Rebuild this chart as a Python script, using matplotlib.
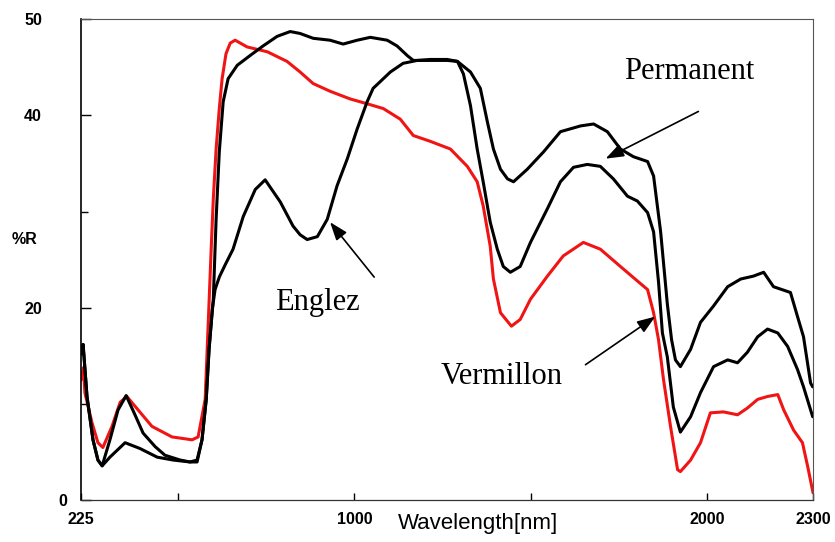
# pigment_spectra.py
"""
Reflectance spectra of three red pigments (Vermillon, Englez, Permanent)
over the 225-2300 nm range.
"""

import matplotlib.pyplot as plt

# ----------------------------
# Data: wavelength [nm] and reflectance [%R]
# ----------------------------
vermillon_wl = [225, 232, 236, 256, 273, 287, 313, 336, 355, 387, 426, 483, 540,
                557, 577, 585, 594, 600, 608, 617, 625, 636, 648, 662, 696, 753,
                809, 846, 883, 931, 988, 1036, 1082, 1130, 1167, 1215, 1272, 1320,
                1348, 1365, 1385, 1394, 1414, 1445, 1470, 1499, 1547, 1592, 1649,
                1697, 1754, 1802, 1831, 1848, 1862, 1876, 1896, 1916, 1924, 1953,
                1981, 2009, 2046, 2086, 2114, 2143, 2171, 2200, 2217, 2245, 2270,
                2285, 2300]
vermillon_r = [12.5, 13.8, 11.2, 8.1, 6.0, 5.5, 7.7, 10.2, 10.8, 9.4, 7.7, 6.6, 6.3,
               6.6, 10.5, 17.8, 26.1, 31.3, 36.5, 40.7, 43.8, 46.4, 47.5, 47.8, 47.1,
               46.6, 45.6, 44.5, 43.3, 42.5, 41.7, 41.2, 40.7, 39.6, 37.9, 37.3, 36.5,
               34.7, 33.1, 30.6, 26.4, 23.0, 19.5, 18.1, 18.8, 20.9, 23.3, 25.4, 26.8,
               26.1, 24.3, 22.8, 21.9, 19.5, 16.7, 12.6, 7.7, 3.2, 3.0, 4.2,
               6.0, 9.1, 9.2, 8.9, 9.6, 10.5, 10.8, 11.0, 9.4, 7.3, 6.0,
               3.5, 0.8]

englez_wl = [225, 231, 242, 259, 273, 285, 307, 330, 353, 378, 401, 435, 463, 506,
             534, 554, 568, 580, 588, 597, 605, 617, 634, 656, 685, 719, 747, 790,
             826, 846, 866, 895, 923, 951, 980, 1008, 1036, 1053, 1102, 1138, 1178,
             1215, 1263, 1292, 1309, 1329, 1348, 1365, 1385, 1405, 1422, 1442, 1470,
             1499, 1547, 1584, 1621, 1660, 1697, 1734, 1774, 1802, 1831, 1848, 1862,
             1873, 1887, 1904, 1924, 1953, 1981, 2018, 2058, 2086, 2114, 2143, 2171,
             2200, 2228, 2256, 2273, 2299]
englez_r = [15.2, 16.2, 10.8, 6.3, 4.2, 3.6, 6.3, 9.4, 10.9, 8.9, 7.0, 5.6, 4.7, 4.2,
            4.0, 4.0, 6.3, 10.5, 15.7, 19.8, 21.9, 23.2, 24.5, 26.1, 29.5, 32.3, 33.3,
            31.0, 28.5, 27.6, 27.1, 27.4, 29.2, 32.7, 35.5, 38.6, 41.4, 42.8, 44.5,
            45.4, 45.7, 45.8, 45.8, 45.6, 44.3, 41.0, 36.5, 33.1, 28.9, 26.1, 24.3,
            23.7, 24.3, 26.8, 30.3, 33.1, 34.6, 34.9, 34.7, 33.4, 31.6, 31.1, 29.9,
            27.9, 22.7, 17.4, 14.9, 9.7, 7.1, 8.7, 11.2, 13.9, 14.6, 14.3, 15.4, 17.0,
            17.8, 17.4, 16.0, 13.6, 11.8, 8.7]

permanent_wl = [225, 231, 242, 259, 273, 285, 307, 350, 392, 441, 486, 534, 554,
                568, 580, 588, 600, 608, 617, 628, 642, 668, 704, 741, 781, 818, 846,
                883, 931, 968, 1008, 1045, 1093, 1121, 1150, 1167, 1215, 1263, 1292,
                1329, 1357, 1377, 1394, 1414, 1434, 1451, 1490, 1536, 1584, 1641, 1678,
                1717, 1754, 1791, 1831, 1848, 1868, 1887, 1899, 1910, 1924, 1953, 1981,
                2018, 2058, 2095, 2131, 2160, 2188, 2236, 2256, 2273, 2293, 2299]
permanent_r = [15.2, 16.2, 10.8, 6.3, 4.2, 3.6, 4.5, 6.0, 5.4, 4.5, 4.2, 4.0, 4.2,
               6.3, 10.5, 15.7, 20.9, 29.2, 36.2, 41.4, 43.8, 45.2, 46.2, 47.2, 48.2,
               48.7, 48.5, 48.0, 47.8, 47.4, 47.8, 48.1, 47.8, 47.2, 46.2, 45.7, 45.7,
               45.7, 45.6, 44.5, 42.8, 39.3, 36.5, 34.4, 33.4, 33.1, 34.4, 36.2, 38.3,
               38.9, 39.1, 38.3, 36.5, 35.7, 35.2, 33.7, 27.9, 20.4, 16.7, 14.6, 13.9,
               15.7, 18.5, 20.2, 22.2, 23.0, 23.3, 23.7, 22.2, 21.6, 19.1, 17.0, 12.2,
               11.8]

x_ticks = [225, 1000, 2000, 2300]
x_minor = [500, 1500]
y_ticks = [0, 20, 40, 50]
y_minor = [10, 30]

# ----------------------------
# Figure and axes
# ----------------------------
fig = plt.figure(figsize=(8.35, 5.42), dpi=100)
ax = fig.add_axes([0.097, 0.0766, 0.8767, 0.8883])

line_style = dict(lw=2.2, solid_joinstyle='round', solid_capstyle='round')
ax.plot(vermillon_wl, vermillon_r, color='#f01414', **line_style)
ax.plot(englez_wl, englez_r, color='black', **line_style)
ax.plot(permanent_wl, permanent_r, color='black', **line_style)

ax.set_xlim(225, 2300)
ax.set_ylim(0, 50)

# Ticks point inward, bold sans labels
ax.set_xticks(x_ticks)
ax.set_xticks(x_minor, minor=True)
ax.set_yticks(y_ticks)
ax.set_yticks(y_minor, minor=True)
ax.set_xticklabels([str(v) for v in x_ticks])
ax.set_yticklabels([str(v) for v in y_ticks])
ax.tick_params(axis='x', which='major', direction='in', length=5, width=1, pad=8)
ax.tick_params(axis='x', which='minor', direction='in', length=5, width=1)
ax.tick_params(axis='y', which='major', direction='in', length=7, width=1, pad=28)
ax.tick_params(axis='y', which='minor', direction='in', length=5, width=1)
for lab in ax.get_xticklabels() + ax.get_yticklabels():
    lab.set_fontfamily('Liberation Sans')
    lab.set_fontweight('bold')
    lab.set_fontsize(11.5)
# the zero label sits close to the corner
ax.yaxis.get_major_ticks()[0].set_pad(10)

for side in ['top', 'right']:
    ax.spines[side].set_color('#555555')
    ax.spines[side].set_linewidth(0.8)
ax.spines['bottom'].set_color('#333333')
ax.spines['bottom'].set_linewidth(0.9)
ax.spines['left'].set_linewidth(1.2)

fig.text(24 / 835, 1 - 240 / 542, '%R', family='Liberation Sans', weight='bold',
         fontsize=11.5, ha='center', va='center')
fig.text(478 / 835, 1 - 523 / 542, 'Wavelength[nm]', family='Liberation Sans',
         fontsize=16, ha='center', va='center')

# ----------------------------
# Curve labels with arrows
# ----------------------------
arrow = dict(arrowstyle='-|>,head_length=0.55,head_width=0.2', mutation_scale=20,
             color='black', lw=1.2, shrinkA=0, shrinkB=0)
label_font = dict(family='Liberation Serif', fontsize=22, ha='center', va='center')

ax.text(1950, 44.6, 'Permanent', **label_font)
ax.annotate('', xy=(1712, 35.5), xytext=(1975, 40.4), arrowprops=arrow)

ax.text(895, 20.6, 'Englez', **label_font)
ax.annotate('', xy=(931, 28.9), xytext=(1056, 23.2), arrowprops=arrow)

ax.text(1417, 12.9, 'Vermillon', **label_font)
ax.annotate('', xy=(1853, 19.1), xytext=(1655, 14.1), arrowprops=arrow)

plt.savefig('out.png', dpi=100)
